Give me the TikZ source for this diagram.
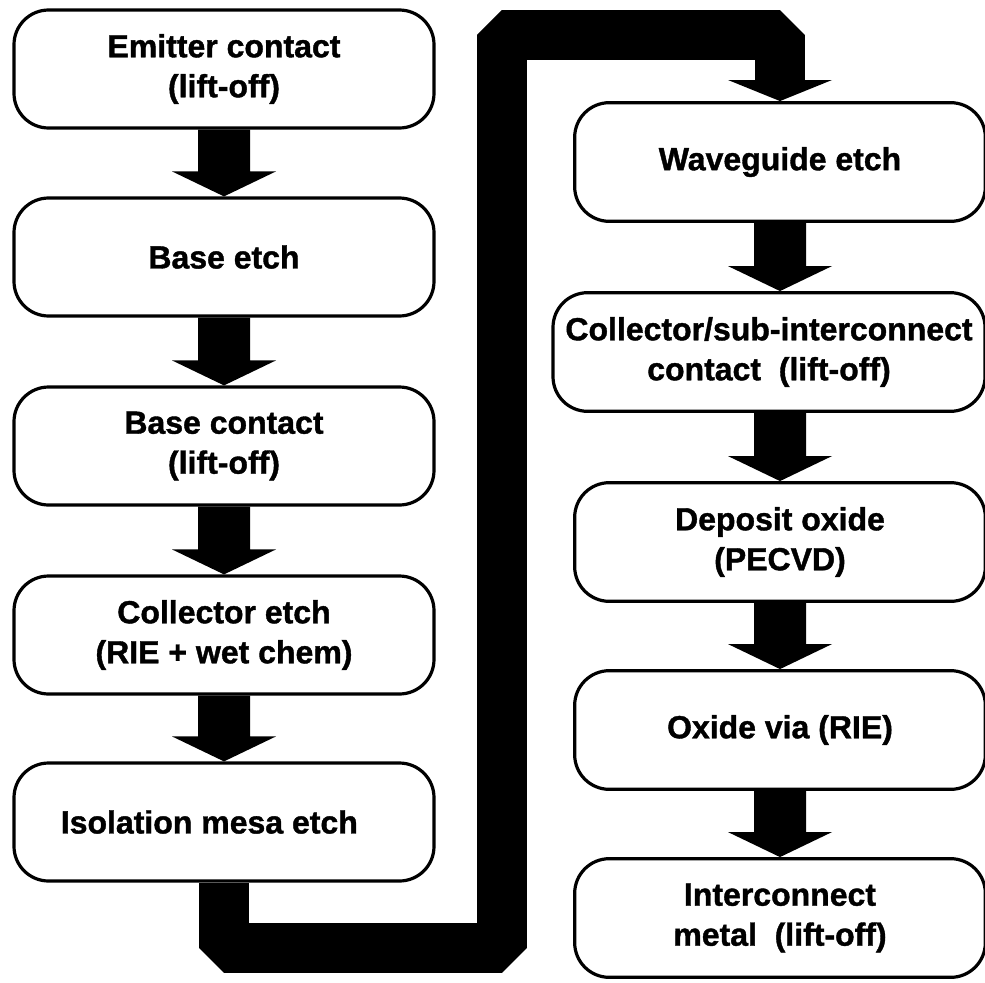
\documentclass[tikz,border=0pt]{standalone}
\usepackage{fontspec}
\setmainfont{Liberation Sans}
\newfontfamily\boxfont[BoldFeatures={FakeBold=1.2}]{Liberation Sans}
\usetikzlibrary{calc}

% block arrow from one box to the next, centred on a column coordinate
\newcommand{\flowarrow}[3]{%
  \fill ($(#1.south-|#3)+(-26,0)$) -- ($(#2.north-|#3)+(-26,-25)$)
    -- ($(#2.north-|#3)+(-52,-25)$) -- (#2.north-|#3)
    -- ($(#2.north-|#3)+(52,-25)$) -- ($(#2.north-|#3)+(26,-25)$)
    -- ($(#1.south-|#3)+(26,0)$) -- cycle;}

\begin{document}
\begin{tikzpicture}[x=0.75pt, y=-0.75pt,
    stepbox/.style={draw, line width=2.4pt, rounded corners=26pt, fill=white,
      minimum width=315pt, minimum height=88.5pt, align=center,
      font=\boxfont\fontsize{24}{30}\selectfont\bfseries},
    rightbox/.style={stepbox, minimum width=308pt, minimum height=89pt},
    bandline/.style={line width=38pt, line join=bevel}]
  \useasboundingbox (0,0) rectangle (985,982);

  \coordinate (lcol) at (224,0);
  \coordinate (rcol) at (780,0);

  % left column
  \node[stepbox] (emitter) at (224,69) {Emitter contact\\(lift-off)};
  \node[stepbox] (baseetch) at (224,257) {Base etch};
  \node[stepbox] (basecont) at (224,446) {Base contact\\(lift-off)};
  \node[stepbox] (colletch) at (224,635) {Collector etch\\(RIE + wet chem)};
  \node[stepbox] (isomesa) at (224,822) {Isolation mesa etch\hspace*{22pt}};

  % right column
  \node[rightbox] (waveguide) at (780,162) {Waveguide etch};
  \node[rightbox, minimum width=324pt] (collsub) at (769,352) {Collector/sub-interconnect\\contact\ \ (lift-off)};
  \node[rightbox] (depox) at (780,542) {Deposit oxide\\(PECVD)};
  \node[rightbox] (oxvia) at (780,730) {Oxide via (RIE)};
  \node[rightbox] (intmetal) at (780,918) {Interconnect\\metal\ \ (lift-off)};

  \flowarrow{emitter}{baseetch}{lcol}
  \flowarrow{baseetch}{basecont}{lcol}
  \flowarrow{basecont}{colletch}{lcol}
  \flowarrow{colletch}{isomesa}{lcol}

  \flowarrow{waveguide}{collsub}{rcol}
  \flowarrow{collsub}{depox}{rcol}
  \flowarrow{depox}{oxvia}{rcol}
  \flowarrow{oxvia}{intmetal}{rcol}

  % thick band from the bottom of the left column to the top of the right one
  \coordinate (bendA) at (224,948);
  \coordinate (bendB) at (502,948);
  \coordinate (bendC) at (502,35);
  \coordinate (bendD) at (780,35);
  \coordinate (bandend) at (780,80);
  \draw[bandline] (isomesa.south) -- (bendA) -- (bendB) -- (bendC) -- (bendD) -- (bandend);
  \fill ($(bandend)+(-52,0)$) -- (waveguide.north) -- ($(bandend)+(52,0)$) -- cycle;
\end{tikzpicture}
\end{document}
